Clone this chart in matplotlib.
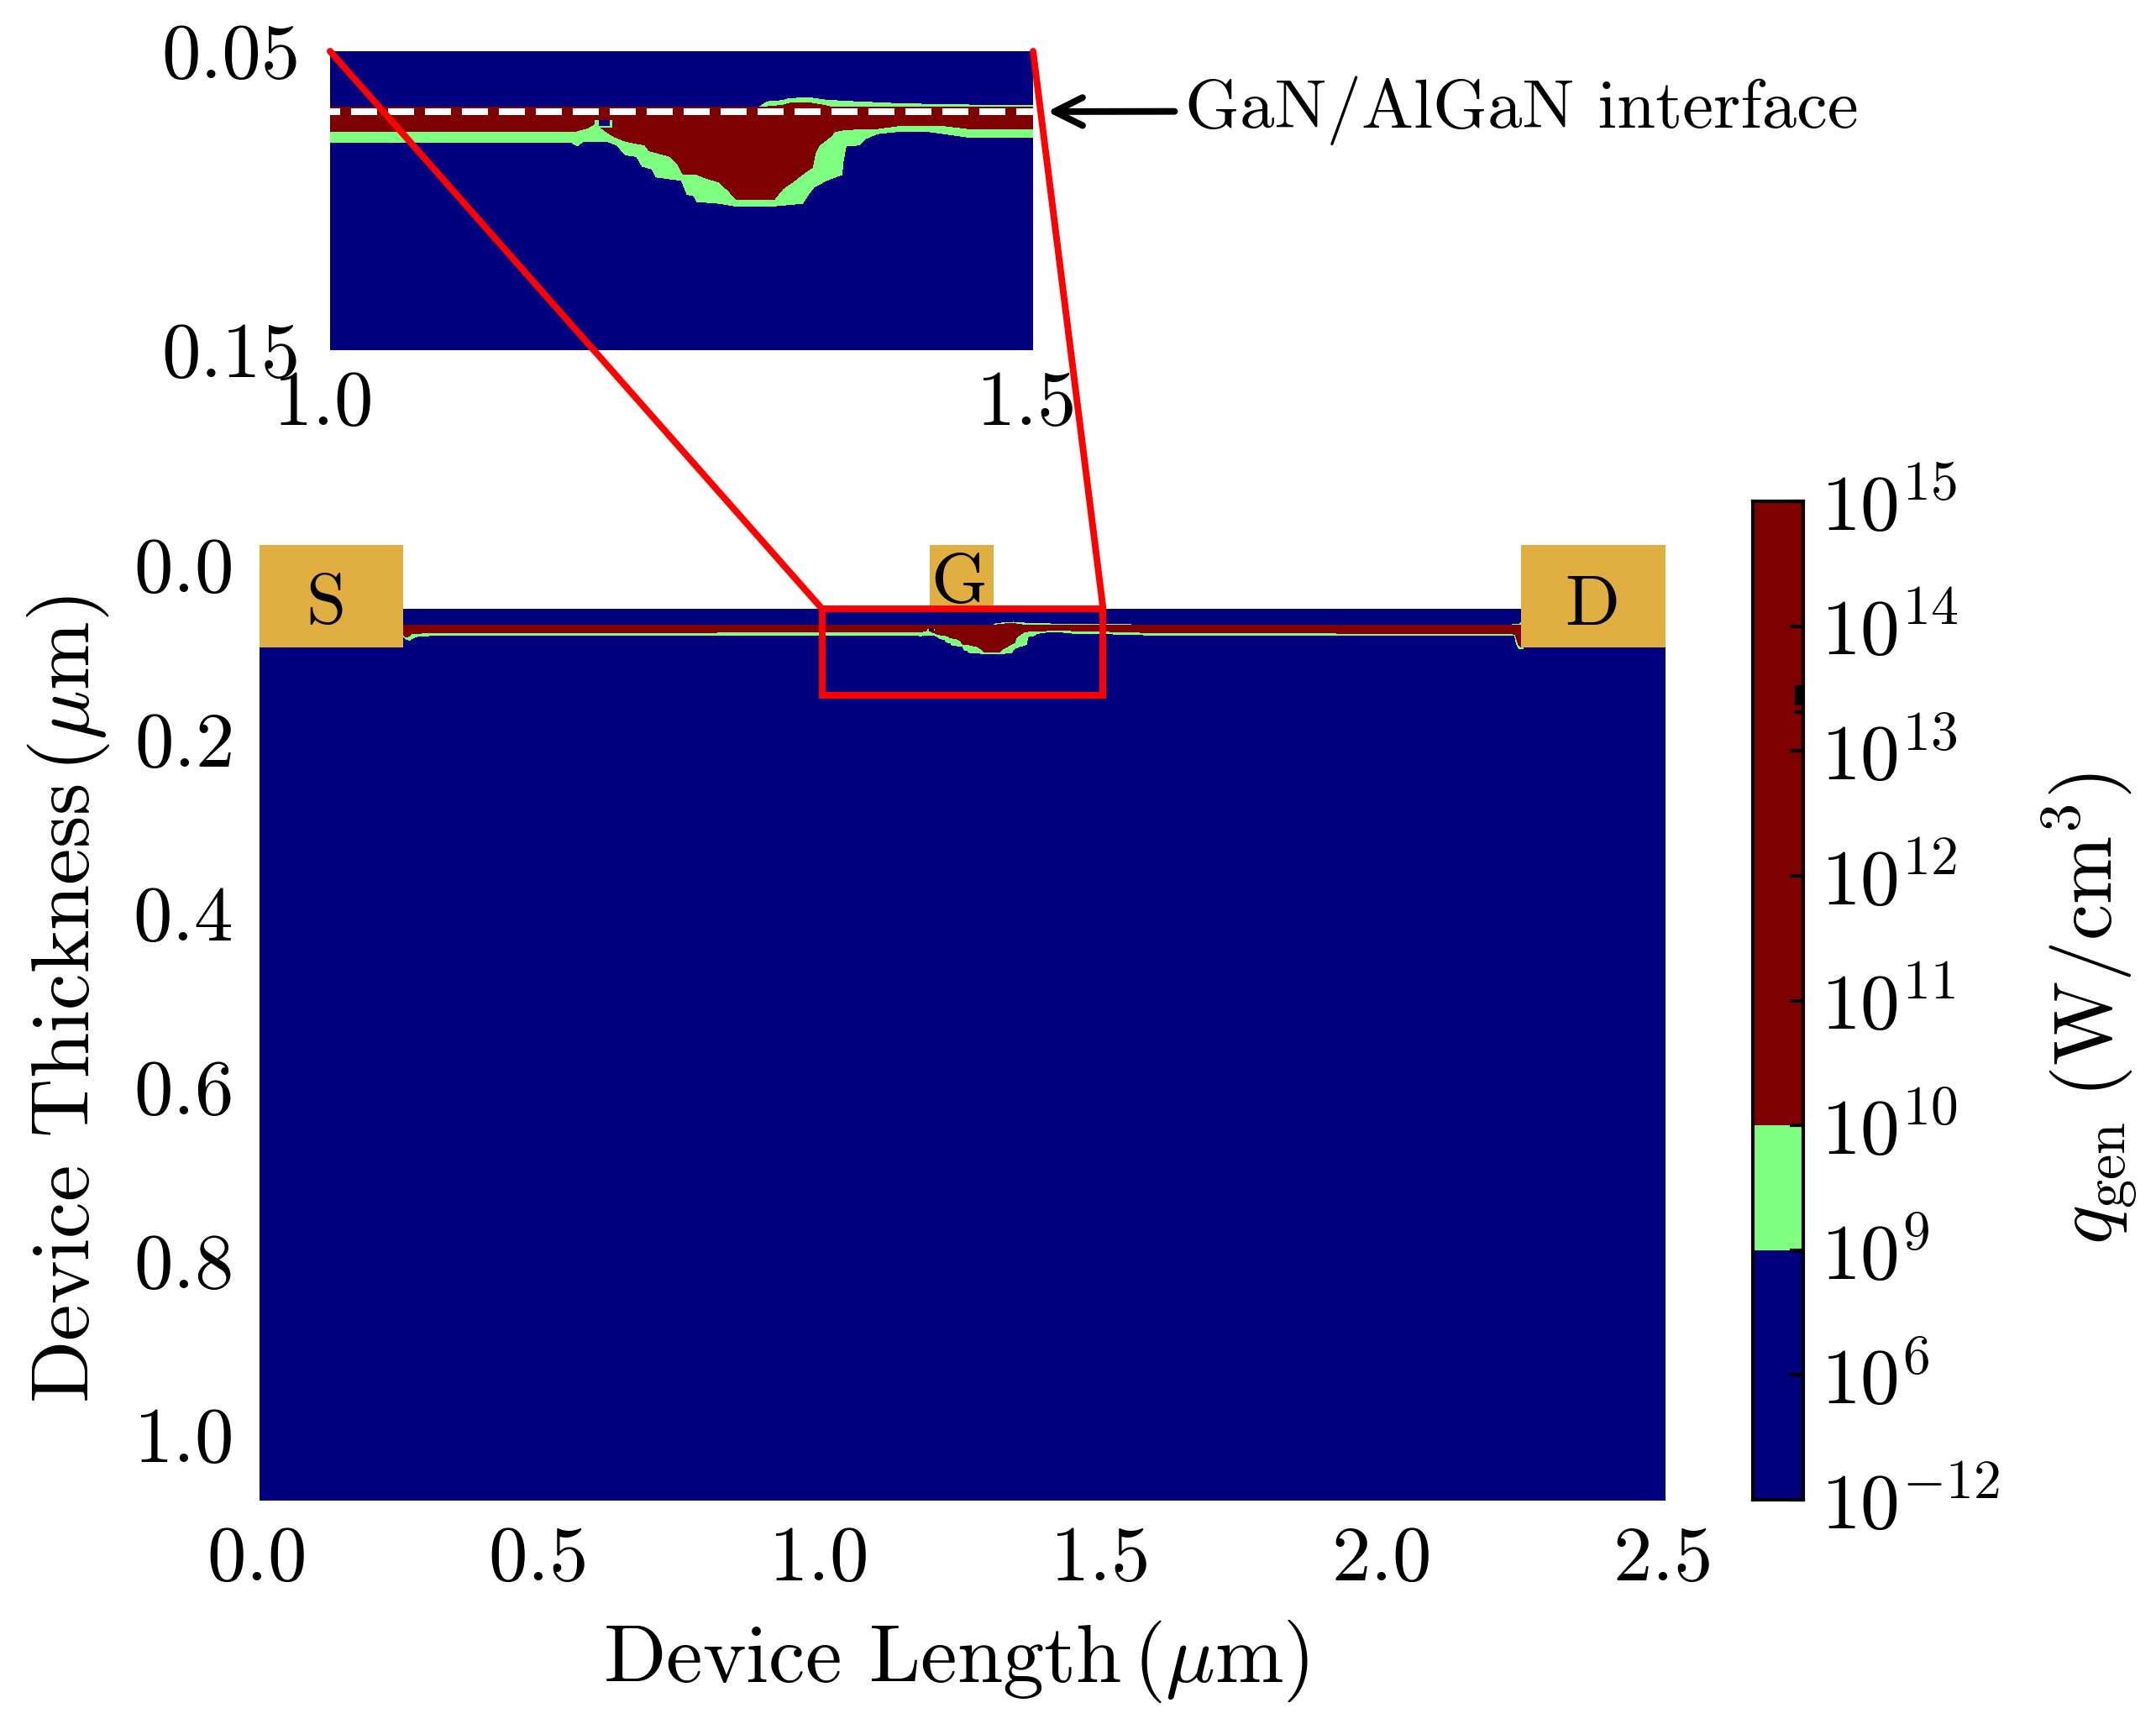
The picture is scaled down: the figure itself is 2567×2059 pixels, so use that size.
"""
Heat generation map of a GaN HEMT cross section, with zoom on the gate edge.
"""

import matplotlib
matplotlib.use("Agg")
import matplotlib.pyplot as plt
import numpy as np
from matplotlib.colors import ListedColormap
from matplotlib.patches import ConnectionPatch, Rectangle
from matplotlib.transforms import ScaledTranslation

plt.rcParams["font.family"] = ["cmr10"]
plt.rcParams["mathtext.fontset"] = "cm"
plt.rcParams["axes.formatter.use_mathtext"] = True
plt.rcParams["axes.unicode_minus"] = False
plt.rcParams["lines.scale_dashes"] = False

W, H = 2567, 2059
BLUE = "#00007f"
GREEN = "#7fff7f"
RED = "#7f0000"
GOLD = "#e1ae42"

# device extent, um
device_x = [0.0, 2.5]
device_top = 0.05
device_bottom = 1.075

# contacts
contact_names = ["S", "G", "D"]
contact_x0 = [0.0, 1.192, 2.243]
contact_x1 = [0.255, 1.306, 2.5]
contact_y1 = [0.0945, 0.052, 0.0945]
contact_top = -0.0232
contact_text_x = [0.118, 1.244, 2.369]
contact_text_y = [0.0456, 0.022, 0.0465]

# top edge of the dark red region
red_top_x = [0.255, 1.305, 1.322, 1.327, 1.341, 1.349, 1.358, 2.243]
red_top_y = [0.0688, 0.0688, 0.0681, 0.0674, 0.0673, 0.0679, 0.0688, 0.0688]

# bottom edge of the dark red region
red_low_x = [0.255, 0.259, 0.264, 0.270, 0.290, 1.000, 1.173, 1.175, 1.183, 1.188,
             1.193, 1.197, 1.203, 1.210, 1.224, 1.227, 1.242, 1.247, 1.251, 1.260,
             1.269, 1.277, 1.284, 1.289, 1.316, 1.322, 1.329, 1.337, 1.343, 1.345,
             1.348, 1.356, 1.359, 1.366, 1.389, 1.403, 1.438, 1.456, 1.500, 1.600,
             2.222, 2.233, 2.236, 2.239, 2.243]
red_low_y = [0.0780, 0.0825, 0.0820, 0.0790, 0.0780, 0.0769, 0.0769, 0.0767, 0.0757, 0.0743,
             0.0757, 0.0771, 0.0788, 0.0801, 0.0814, 0.0833, 0.0852, 0.0875, 0.0911, 0.0911,
             0.0927, 0.0938, 0.0970, 0.0995, 0.0995, 0.0960, 0.0937, 0.0908, 0.0889, 0.0842,
             0.0814, 0.0785, 0.0769, 0.0762, 0.0759, 0.0750, 0.0750, 0.0760, 0.0760, 0.0778,
             0.0785, 0.0795, 0.0860, 0.0915, 0.0945]

# top edge of the green region
green_top_x = [0.255, 1.305, 1.311, 1.322, 1.327, 1.341, 1.353, 1.374, 1.403, 1.438,
               1.500, 1.550, 1.551, 2.227, 2.228, 2.239, 2.243]
green_top_y = [0.0688, 0.0688, 0.0669, 0.0665, 0.0658, 0.0656, 0.0664, 0.0669, 0.0675, 0.0679,
               0.0682, 0.0685, 0.0688, 0.0688, 0.0683, 0.0683, 0.0660]

# bottom edge of the green region
green_low_x = [0.255, 0.259, 0.267, 0.272, 0.280, 0.305, 1.000, 1.172, 1.173, 1.176,
               1.180, 1.197, 1.204, 1.210, 1.218, 1.222, 1.229, 1.232, 1.250, 1.254,
               1.259, 1.261, 1.277, 1.287, 1.317, 1.336, 1.341, 1.344, 1.353, 1.364,
               1.365, 1.367, 1.376, 1.381, 1.389, 1.403, 1.426, 1.455, 1.500, 1.600,
               2.232, 2.233, 2.236, 2.240, 2.247]
green_low_y = [0.0800, 0.0845, 0.0864, 0.0840, 0.0820, 0.0809, 0.0806, 0.0806, 0.0809, 0.0817,
               0.0801, 0.0801, 0.0814, 0.0847, 0.0852, 0.0885, 0.0894, 0.0921, 0.0932, 0.0979,
               0.0984, 0.1003, 0.1009, 0.1017, 0.1017, 0.1009, 0.0974, 0.0955, 0.0932, 0.0913,
               0.0866, 0.0817, 0.0814, 0.0792, 0.0776, 0.0769, 0.0769, 0.0788, 0.0788, 0.0806,
               0.0806, 0.0850, 0.0925, 0.0960, 0.0960]

# small spot left of the gate
spot_green_x = [1.188, 1.2005]
spot_green_top = [0.0729, 0.0729]
spot_green_low = [0.0755, 0.0755]
spot_blue_x = [1.191, 1.199]
spot_blue_top = [0.0729, 0.0729]
spot_blue_low = [0.0750, 0.0750]

# colorbar
cbar_exponents = [-12, 6, 9, 10, 11, 12, 13, 14, 15]
cbar_colors = [BLUE, BLUE, GREEN, RED, RED, RED, RED, RED]
cbar_minor = [6.311, 6.378, 6.39, 6.41, 6.43, 6.45, 6.47, 6.49, 6.51]


def polygon(ax, x_top, y_top, x_low, y_low, color):
    xs = np.concatenate([x_top, x_low[::-1]])
    ys = np.concatenate([y_top, y_low[::-1]])
    ax.fill(xs, ys, color=color, lw=0, antialiased=False)


def draw_field(ax):
    ax.fill_between(device_x, [device_top] * 2, [device_bottom] * 2, color=BLUE, lw=0)
    polygon(ax, green_top_x, green_top_y, green_low_x, green_low_y, GREEN)
    polygon(ax, red_top_x, red_top_y, red_low_x, red_low_y, RED)
    ax.fill_between(spot_green_x, spot_green_top, spot_green_low, color=GREEN, lw=0)
    ax.fill_between(spot_blue_x, spot_blue_top, spot_blue_low, color=BLUE, lw=0)


def frac_box(left, top, right, bottom):
    return [left / W, 1 - bottom / H, (right - left) / W, (bottom - top) / H]


def nudge_xlabels(ax, px):
    for lab in ax.get_xticklabels():
        lab.set_transform(lab.get_transform() + ScaledTranslation(px / 300, 0, fig.dpi_scale_trans))


fig = plt.figure(figsize=(W / 300, H / 300), dpi=300)

# main map
ax = fig.add_axes(frac_box(309, 649, 1983, 1786))
draw_field(ax)
for i, name in enumerate(contact_names):
    ax.add_patch(Rectangle((contact_x0[i], contact_top), contact_x1[i] - contact_x0[i],
                           contact_y1[i] - contact_top, fc=GOLD, ec="none", zorder=3))
    ax.text(contact_text_x[i], contact_text_y[i], name, fontsize=20.5, ha="center", va="center", zorder=4)
ax.add_patch(Rectangle((1.0, 0.05), 0.5, 0.1, fill=False, ec="red", lw=1.9, zorder=5))
ax.set_xlim(0, 2.5)
ax.set_ylim(1.0743, -0.0232)
ax.set_xticks([0.0, 0.5, 1.0, 1.5, 2.0, 2.5])
ax.set_yticks([0.0, 0.2, 0.4, 0.6, 0.8, 1.0])
ax.tick_params(length=0, labelsize=22.3)
ax.tick_params(axis="x", pad=7.5)
ax.tick_params(axis="y", pad=8)
nudge_xlabels(ax, -5)
for s in ax.spines.values():
    s.set_visible(False)

fig.text(1138 / W, 1 - 1978 / H, r"Device Length$\,$($\mu$m)", fontsize=23.5, ha="center", va="center")
fig.text(82 / W, 1 - 1190 / H, r"Device Thickness$\,$($\mu$m)", fontsize=23.5, rotation=90, ha="center", va="center")

# zoom
ax_in = fig.add_axes(frac_box(393, 61, 1230, 417))
draw_field(ax_in)
ax_in.plot([1.0, 1.5], [0.0702, 0.0702], color="white", lw=1.92, dash_capstyle="butt",
           linestyle=(4.56, (7.44, 3.12)))
ax_in.set_xlim(1.0, 1.5)
ax_in.set_ylim(0.15, 0.05)
ax_in.set_xticks([1.0, 1.5])
ax_in.set_yticks([0.05, 0.15])
ax_in.set_yticklabels(["0.05", "0.15"])
ax_in.tick_params(length=0, labelsize=22.3)
ax_in.tick_params(axis="x", pad=5.8)
ax_in.tick_params(axis="y", pad=8.5)
nudge_xlabels(ax_in, -10)
for s in ax_in.spines.values():
    s.set_visible(False)

for x_end in [1.0, 1.5]:
    fig.add_artist(ConnectionPatch(xyA=(x_end, 0.05), coordsA=ax_in.transData,
                                   xyB=(x_end, 0.05), coordsB=ax.transData,
                                   color="red", lw=1.9, zorder=6))

ax_in.annotate("GaN/AlGaN interface", xy=(1.510, 0.0702), xycoords="data",
               xytext=(1411, H - 132), textcoords="figure pixels", fontsize=19.9, va="center",
               annotation_clip=False,
               arrowprops=dict(arrowstyle="->", lw=1.9, color="black", mutation_scale=20,
                               shrinkA=1, shrinkB=0))

# colorbar
cax = fig.add_axes(frac_box(2087, 597, 2147, 1786))
cax.pcolormesh([0, 1], np.arange(9), np.arange(8).reshape(-1, 1),
               cmap=ListedColormap(cbar_colors), vmin=-0.5, vmax=7.5)
cax.set_xlim(0, 1)
cax.set_ylim(0, 8)
cax.set_xticks([])
cax.yaxis.tick_right()
cax.set_yticks(np.arange(9))
cax.set_yticklabels([r"$10^{%d}$" % e for e in cbar_exponents])
cax.set_yticks(cbar_minor, minor=True)
cax.tick_params(axis="y", which="major", direction="in", length=3.8, width=1, labelsize=22.5, pad=5)
cax.tick_params(axis="y", which="minor", direction="in", length=2.4, width=1)
for s in cax.spines.values():
    s.set_linewidth(1)

fig.text(2488 / W, 1 - 1201 / H, r"$q_{\mathrm{gen}}\;\mathrm{(W/cm^3)}$", fontsize=23.4, rotation=90,
         ha="center", va="center")

fig.savefig("out.png", dpi=300)
